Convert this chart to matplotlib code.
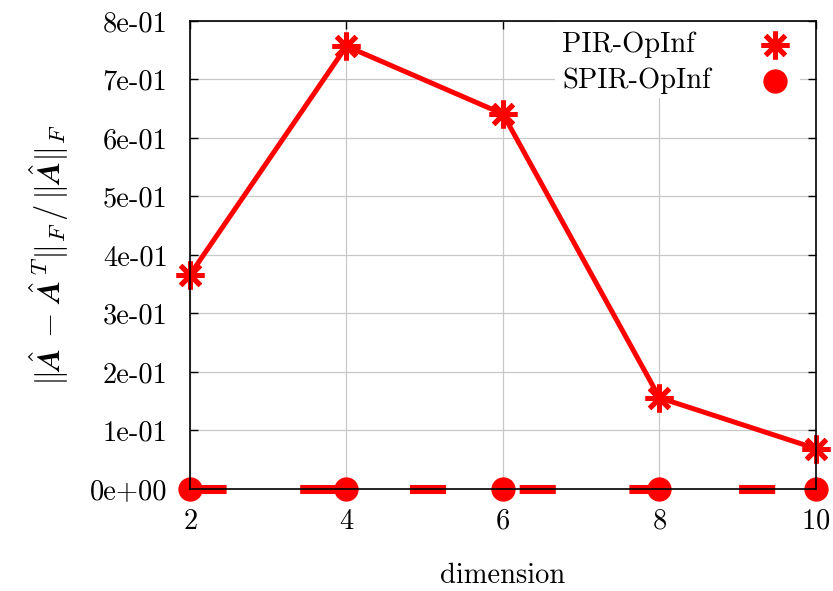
import numpy as np
import matplotlib
matplotlib.use('Agg')
import matplotlib.pyplot as plt
from matplotlib.ticker import FuncFormatter
from matplotlib.patches import Rectangle

plt.rcParams['font.family'] = 'cmr10'
plt.rcParams['mathtext.fontset'] = 'cm'
plt.rcParams['axes.formatter.use_mathtext'] = True
plt.rcParams['lines.scale_dashes'] = False

# relative asymmetry of the inferred operator vs. reduced dimension
dims = [2, 4, 6, 8, 10]
pir_err = [0.366, 0.757, 0.641, 0.156, 0.069]
spir_err = [0.0, 0.0, 0.0, 0.0, 0.0]
yticks = [0.0, 0.1, 0.2, 0.3, 0.4, 0.5, 0.6, 0.7, 0.8]
labels = ['PIR-OpInf', 'SPIR-OpInf']

fs = 20.5
star = dict(marker=(8, 2, 0), ms=20, mew=3.6)
dot = dict(marker='o', ms=16.5)

fig = plt.figure(figsize=(8.33, 5.91), dpi=100)
ax = fig.add_axes([0.228, 0.1726, 0.7516, 0.7919])

ax.plot(dims, pir_err, color='red', lw=3.6, clip_on=False, zorder=3, **star)
ax.plot(dims, spir_err, color='red', lw=6.5, ls=(0, (26, 53)),
        dash_capstyle='butt', clip_on=False, zorder=3, **dot)

ax.set_xlim(2, 10)
ax.set_ylim(0, 0.8)
ax.set_xticks(dims)
ax.set_yticks(yticks)
ax.yaxis.set_major_formatter(FuncFormatter(lambda v, p: '%.0e' % v))
ax.grid(True, color='#c8c8c8', lw=0.9)
ax.set_axisbelow(True)
ax.tick_params(direction='in', length=5.5, width=1, labelsize=fs,
               top=True, right=True)
ax.tick_params(axis='x', pad=14)
ax.tick_params(axis='y', pad=16)
for s in ax.spines.values():
    s.set_linewidth(1.2)
    s.set_zorder(4)

ax.set_xlabel('dimension', fontsize=fs, labelpad=20)
ax.set_ylabel(r'$\|\hat{\boldsymbol{A}}\,-\,\hat{\boldsymbol{A}}^{\,T}\|_F\,/\,\|\hat{\boldsymbol{A}}\|_F$',
              fontsize=23.5, labelpad=14)

# key: text on the left, symbol on the right, white box over the grid
ax.add_patch(Rectangle((0.583, 0.835), 0.391, 0.163, transform=ax.transAxes,
                       facecolor='white', edgecolor='none', zorder=2.5))
for lab, sty, yk in zip(labels, [star, dot], [0.949, 0.872]):
    ax.text(0.595, yk, lab, transform=ax.transAxes, fontsize=fs,
            ha='left', va='center', zorder=5)
    ax.plot([0.934], [yk], transform=ax.transAxes, color='red', ls='none',
            clip_on=False, zorder=5, **sty)

fig.savefig('out.png', dpi=100)
